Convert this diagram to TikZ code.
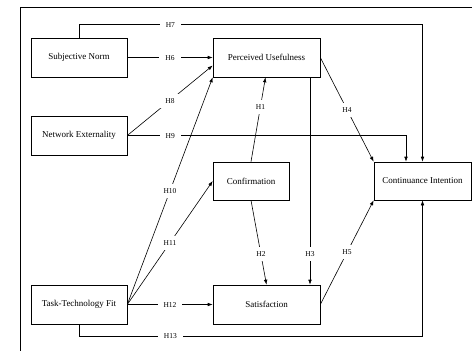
\documentclass[tikz,border=0pt]{standalone}
\usepackage{fontspec}
\setmainfont{Liberation Serif}
\usetikzlibrary{arrows.meta,shadows}

\tikzset{
  box/.style={draw, line width=0.6pt, fill=white, minimum height=39pt,
    font=\fontsize{9}{10}\selectfont,
    drop shadow={shadow xshift=1pt, shadow yshift=-1pt, fill=gray!60, opacity=0.6}},
  hyp/.style={fill=white, font=\fontsize{7.5}{8}\selectfont, inner xsep=6pt,
    inner ysep=4.5pt, text height=5pt, text depth=0pt},
  link/.style={line width=0.6pt, -{Latex[length=5pt,width=3.6pt]}},
}

\begin{document}
\begin{tikzpicture}[x=1pt, y=-1pt]

    \useasboundingbox (0,0) rectangle (472,351);

    % Frame
    \draw[line width=1pt] (20,360) -- (20,7) -- (480,7);

    % Constructs
    \node[box, minimum width=96pt]  (sn)   at (79,57.5)    {Subjective Norm};
    \node[box, minimum width=96pt]  (ne)   at (79,135.5)   {Network Externality};
    \node[box, minimum width=96pt]  (ttf)  at (79,304.5)   {Task-Technology Fit};
    \node[box, minimum width=107pt] (pu)   at (266.5,57.5) {Perceived Usefulness};
    \node[box, minimum width=76pt, minimum height=38pt] (conf) at (251,181) {Confirmation};
    \node[box, minimum width=107pt] (sat)  at (266.5,304.5) {Satisfaction};
    \node[box, minimum width=97pt, minimum height=38pt] (ci) at (422.5,181) {Continuance Intention};

    % Hypotheses H1--H5
    \draw[link] (conf.north) -- node[hyp, pos=0.65]{H1} ([xshift=-1pt]pu.south);
    \draw[link] (conf.south) -- node[hyp, pos=0.64]{H2} (sat.north);
    \draw[link] ([xshift=43.5pt]pu.south) -- node[hyp, pos=0.85]{H3} ([xshift=43.5pt]sat.north);
    \draw[link] (pu.east) -- node[hyp]{H4} (ci.north west);
    \draw[link] (sat.east) -- node[hyp]{H5} (ci.south west);

    % Hypotheses H6--H9
    \draw[link] (sn.east) -- node[hyp]{H6} (pu.west);
    \draw[link] (sn.north) -- ++(0,-13) -| node[hyp, pos=0.133]{H7} (ci.north);
    \draw[link] (ne.east) -- node[hyp]{H8} ([yshift=-8pt]pu.west);
    \draw[link] (ne.east) -| node[hyp, pos=0.077]{H9} ([xshift=-16.5pt]ci.north);

    % Hypotheses H10--H13
    \draw[link] (ttf.east) -- node[hyp]{H10} (pu.south west);
    \draw[link] (ttf.east) -- node[hyp]{H11} (conf.west);
    \draw[link] (ttf.east) -- node[hyp]{H12} (sat.west);
    \draw[link] (ttf.south) -- ++(0,12) -| node[hyp, pos=0.133]{H13} (ci.south);

\end{tikzpicture}
\end{document}
